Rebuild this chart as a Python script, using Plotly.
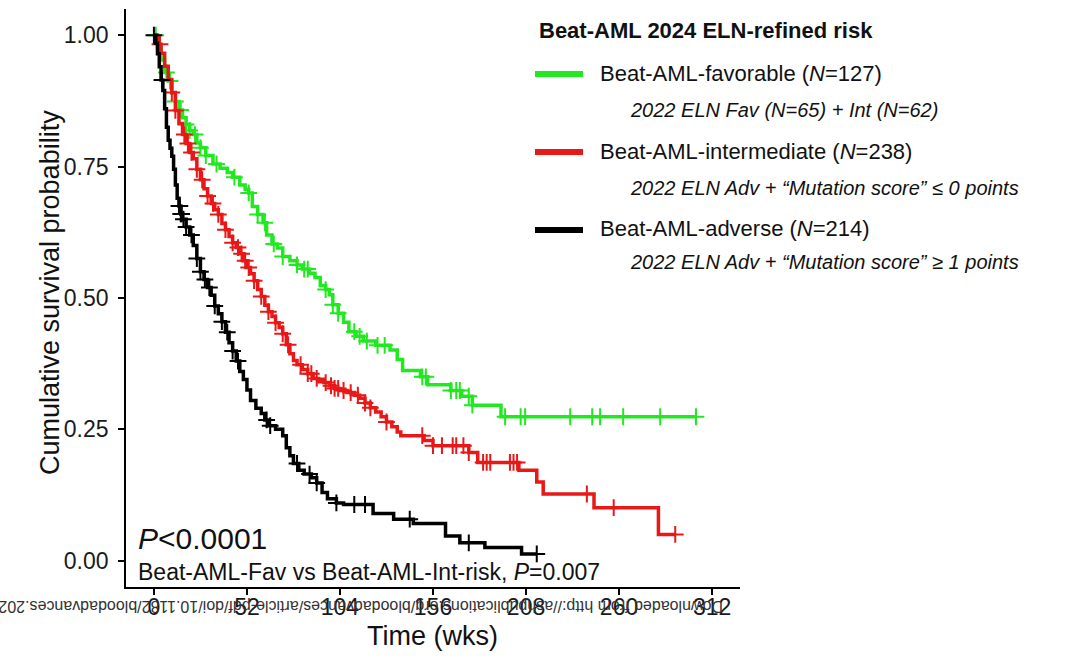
import numpy as np
import plotly.graph_objects as go

# ---------------- data (weeks, survival probability) ----------------
fav_t = [0, 2, 4, 6, 8, 10, 12, 14, 16, 18, 20, 22, 24, 26, 29, 33, 37, 41, 44, 48,
         51, 53, 55, 58, 61, 63, 66, 69, 72, 76, 80, 83, 87, 90, 93, 96, 98, 100, 103, 106,
         109, 113, 117, 124, 132, 136, 139, 149, 153, 166, 172, 178, 194]
fav_s = [1.0, 0.976, 0.953, 0.929, 0.913, 0.890, 0.874, 0.858, 0.843, 0.830,
         0.819, 0.811, 0.795, 0.786, 0.771, 0.755, 0.747, 0.739, 0.730, 0.715,
         0.707, 0.700, 0.674, 0.659, 0.643, 0.620, 0.603, 0.595, 0.579, 0.571,
         0.563, 0.555, 0.547, 0.539, 0.524, 0.516, 0.506, 0.487, 0.471, 0.454,
         0.436, 0.427, 0.418, 0.410, 0.401, 0.383, 0.362, 0.350, 0.335, 0.324,
         0.313, 0.296, 0.274]
fav_cens = [1, 7, 9, 12, 15, 18, 20, 23, 26, 29, 35, 45, 53, 58, 62, 67, 72, 80, 84, 86,
            96, 100, 103, 112, 115, 119, 125, 129, 150, 152, 166, 169, 171, 176, 178,
            196.3, 205, 207.5, 232.7, 245, 249.4, 262.3, 283, 303]

int_t = [0, 2, 4, 6, 8, 10, 12, 14, 16, 18, 20, 22, 24, 26, 28, 30, 32, 34, 36, 38,
         40, 42, 44, 46, 48, 50, 52, 54, 56, 58, 60, 62, 64, 66, 68, 70, 72, 74, 76, 78,
         80, 83, 86, 89, 92, 95, 98, 101, 104, 108, 112, 115, 118, 121, 124, 127, 130, 133, 136, 138,
         151, 156, 176, 181, 204, 214, 217.6, 246, 282]
int_s = [1.0, 0.983, 0.966, 0.941, 0.916, 0.891, 0.857, 0.832, 0.811, 0.794,
         0.777, 0.765, 0.745, 0.725, 0.708, 0.694, 0.680, 0.668, 0.659, 0.642,
         0.630, 0.617, 0.605, 0.596, 0.584, 0.571, 0.558, 0.546, 0.533, 0.516,
         0.503, 0.486, 0.474, 0.465, 0.453, 0.444, 0.432, 0.411, 0.394, 0.381,
         0.373, 0.364, 0.356, 0.347, 0.343, 0.339, 0.333, 0.328, 0.324, 0.320,
         0.315, 0.309, 0.300, 0.291, 0.283, 0.274, 0.264, 0.255, 0.245, 0.238,
         0.229, 0.219, 0.206, 0.187, 0.172, 0.150, 0.127, 0.101, 0.050]
int_cens = [3.4, 10, 12, 17, 19, 21, 24, 27, 30, 33, 36, 40, 44, 47, 49, 51, 53, 56, 60, 64,
            68, 72, 75, 82, 86, 88, 91, 96, 99, 101, 103, 106, 110, 114, 118, 121, 130, 150,
            156, 161, 167, 169, 173, 176, 184, 186, 188, 199, 201, 203, 242, 257, 291.4]

adv_t = [0, 1, 2, 3, 4, 5, 6, 7, 8, 9, 10, 11, 12, 13, 14, 15, 16, 18, 20, 22,
         24, 26, 28, 30, 32, 34, 36, 38, 40, 42, 44, 46, 48, 50, 52, 54, 57, 60, 62, 64,
         68, 72, 74, 76, 78, 81, 84, 88, 91, 94, 97, 102, 106, 122.5, 134, 145, 163, 171, 185, 205.5]
adv_s = [1.0, 0.985, 0.965, 0.94, 0.915, 0.895, 0.86, 0.825, 0.80, 0.785,
         0.77, 0.745, 0.715, 0.69, 0.675, 0.66, 0.65, 0.635, 0.62, 0.60,
         0.575, 0.55, 0.535, 0.52, 0.505, 0.485, 0.47, 0.455, 0.435, 0.415,
         0.399, 0.38, 0.36, 0.345, 0.325, 0.305, 0.29, 0.28, 0.268, 0.257,
         0.25, 0.238, 0.215, 0.20, 0.185, 0.172, 0.165, 0.158, 0.148, 0.13,
         0.118, 0.11, 0.107, 0.09, 0.079, 0.071, 0.047, 0.034, 0.025, 0.013]
adv_cens = [0, 4.5, 14, 14.5, 15, 15.5, 16.5, 18, 21, 24, 26, 28.5, 31, 34, 38, 41, 44, 47,
            63, 65, 80, 87, 91, 102, 112, 118, 143, 176, 214]

x_ticks = [0, 52, 104, 156, 208, 260, 312]
y_ticks = [0, 0.25, 0.5, 0.75, 1.0]
y_ticktext = ["0.00", "0.25", "0.50", "0.75", "1.00"]

legend_title = "<b>Beat-AML 2024 ELN-refined risk</b>"
legend_labels = ["Beat-AML-favorable (<i>N</i>=127)",
                 "Beat-AML-intermediate (<i>N</i>=238)",
                 "Beat-AML-adverse (<i>N</i>=214)"]
legend_subs = ["<i>2022 ELN Fav (N=65) + Int (N=62)</i>",
               "<i>2022 ELN Adv + “Mutation score” ≤ 0 points</i>",
               "<i>2022 ELN Adv + “Mutation score” ≥ 1 points</i>"]
colors = ["#22E822", "#E81818", "#000000"]

# ---------------- layout helpers ----------------
FONT = "Liberation Sans, Arial, Helvetica, sans-serif"
W, H = 1080, 665
L, R, T, B = 126, 740, 9, 587


def px(x):
    return (x - L) / (R - L)


def py(y):
    return (B - y) / (B - T)


fig = go.Figure()

groups = [(fav_t, fav_s, fav_cens), (int_t, int_s, int_cens), (adv_t, adv_s, adv_cens)]
for (t, s, cens), col in zip(groups, colors):
    t = np.asarray(t, float)
    s = np.asarray(s, float)
    c = np.asarray(cens, float)
    end = max(c.max(), t.max())
    fig.add_trace(go.Scatter(
        x=np.append(t, end), y=np.append(s, s[-1]), mode="lines",
        line=dict(color=col, width=3.5, shape="hv"),
        showlegend=False, hoverinfo="skip"))
    idx = np.searchsorted(t, c, side="right") - 1
    fig.add_trace(go.Scatter(
        x=c, y=s[idx], mode="markers",
        marker=dict(symbol="cross-thin", size=12, line=dict(color=col, width=2)),
        showlegend=False, hoverinfo="skip"))

axis_common = dict(showline=True, linecolor="black", linewidth=1.6, mirror=False,
                   ticks="outside", ticklen=6, tickwidth=1.6, tickcolor="black",
                   showgrid=False, zeroline=False, automargin=False,
                   tickfont=dict(family=FONT, size=23, color="#1a1a1a"))

fig.update_layout(
    width=W, height=H,
    margin=dict(l=L, r=W - R, t=T, b=H - B, pad=0, autoexpand=False),
    plot_bgcolor="white", paper_bgcolor="white",
    font=dict(family=FONT, color="#111"),
    xaxis=dict(range=[-15.6, 327.6], tickvals=x_ticks, ticklabelstandoff=-7, **axis_common),
    yaxis=dict(range=[-0.05, 1.05], tickvals=y_ticks, ticktext=y_ticktext,
               ticklabelstandoff=5, **axis_common),
    showlegend=False,
)

ann = []
shapes = []
# axis titles
ann.append(dict(text="Cumulative survival probability", x=px(50), y=py(293),
                xanchor="center", textangle=-90, font=dict(size=27, family=FONT, color="#111")))
ann.append(dict(text="Time (wks)", x=px(432), y=py(636), xanchor="center",
                font=dict(size=27, family=FONT, color="#111")))
# p-values
ann.append(dict(text="<i>P</i>&lt;0.0001", x=px(136), y=py(538), xanchor="left",
                font=dict(size=30, family=FONT, color="#111")))
ann.append(dict(text="Beat-AML-Fav vs Beat-AML-Int-risk, <i>P</i>=0.007", x=px(136), y=py(572),
                xanchor="left", font=dict(size=23, family=FONT, color="#111")))
# legend
ann.append(dict(text=legend_title, x=px(537), y=py(30), xanchor="left",
                font=dict(size=22, family=FONT, color="#111")))
item_y = [73, 151, 229]
sub_y = [110, 188, 262]
for lab, sub, col, iy, sy in zip(legend_labels, legend_subs, colors, item_y, sub_y):
    shapes.append(dict(type="line", xref="paper", yref="paper", x0=px(535), x1=px(583),
                       y0=py(iy + 1), y1=py(iy + 1), line=dict(color=col, width=6)))
    ann.append(dict(text=lab, x=px(598), y=py(iy), xanchor="left",
                    font=dict(size=22, family=FONT, color="#111")))
    ann.append(dict(text=sub, x=px(628), y=py(sy), xanchor="left",
                    font=dict(size=20, family=FONT, color="#111")))
# upside-down watermark from source page
ann.append(dict(text="Downloaded from http://ashpublications.org/bloodadvances/article-pdf/doi/10.1182/bloodadvances.2024",
                x=px(725), y=py(607), xanchor="right", textangle=180,
                font=dict(size=16, family=FONT, color="#333")))

for a in ann:
    a.setdefault("xref", "paper")
    a.setdefault("yref", "paper")
    a.setdefault("showarrow", False)
    a.setdefault("yanchor", "middle")

fig.update_layout(annotations=ann, shapes=shapes)
fig.write_html("out.html")
